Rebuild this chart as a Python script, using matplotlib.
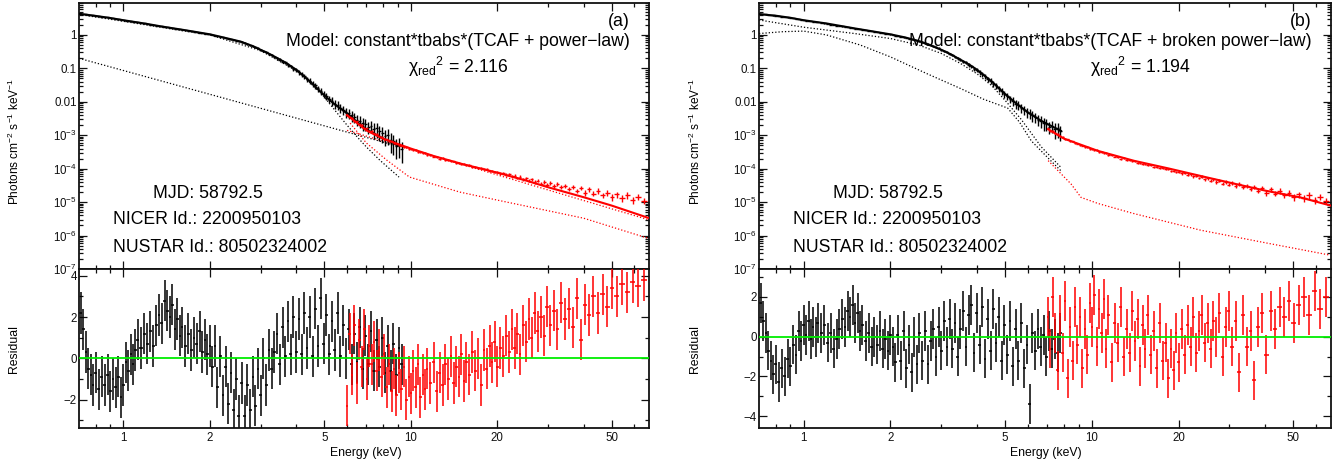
import numpy as np
import matplotlib
matplotlib.use("Agg")
import matplotlib.pyplot as plt
from matplotlib.ticker import FixedLocator, FixedFormatter, LogLocator, NullFormatter, MultipleLocator

plt.rcParams['font.family'] = ['Liberation Sans', 'DejaVu Sans']
plt.rcParams['mathtext.fontset'] = 'custom'
plt.rcParams['mathtext.rm'] = 'Liberation Sans'
plt.rcParams['mathtext.it'] = 'Liberation Sans:italic'
plt.rcParams['mathtext.bf'] = 'Liberation Sans:bold'
plt.rcParams['axes.unicode_minus'] = True

# ---------------- data: NICER (black) energy bins, keV ----------------
E_NICER = [0.71, 0.725, 0.74, 0.755, 0.77, 0.785, 0.80, 0.82, 0.84, 0.86,
           0.88, 0.90, 0.92, 0.94, 0.96, 0.98, 1.00, 1.02, 1.04, 1.06,
           1.08, 1.10, 1.12, 1.15, 1.18, 1.21, 1.24, 1.27, 1.30, 1.33,
           1.36, 1.39, 1.42, 1.45, 1.48, 1.51, 1.54, 1.57, 1.60, 1.64,
           1.68, 1.72, 1.76, 1.80, 1.84, 1.88, 1.92, 1.96, 2.00, 2.04,
           2.08, 2.12, 2.17, 2.22, 2.27, 2.32, 2.37, 2.42, 2.47, 2.52,
           2.58, 2.64, 2.70, 2.76, 2.82, 2.88, 2.94, 3.00, 3.07, 3.14,
           3.21, 3.28, 3.35, 3.42, 3.50, 3.58, 3.66, 3.74, 3.82, 3.90,
           3.99, 4.08, 4.17, 4.26, 4.35, 4.45, 4.55, 4.65, 4.75, 4.86,
           4.97, 5.08, 5.20, 5.32, 5.44, 5.56, 5.69, 5.82, 5.95, 6.08,
           6.22, 6.36, 6.50, 6.65, 6.80, 6.95, 7.11, 7.27, 7.43, 7.60,
           7.77, 7.95, 8.13, 8.32, 8.51, 8.70, 8.90, 9.10, 9.30]

# unfolded NICER flux (photons cm-2 s-1 keV-1)
F_NICER = [4.25, 4.18, 4.10, 4.02, 3.95, 3.85, 3.75, 3.65, 3.55, 3.45,
           3.35, 3.25, 3.15, 3.05, 2.95, 2.85, 2.75, 2.68, 2.62, 2.56,
           2.50, 2.44, 2.38, 2.29, 2.20, 2.11, 2.03, 1.96, 1.90, 1.84,
           1.79, 1.74, 1.69, 1.64, 1.59, 1.55, 1.51, 1.47, 1.43, 1.38,
           1.33, 1.29, 1.25, 1.21, 1.17, 1.14, 1.10, 1.07, 1.04, 1.00,
           0.96, 0.93, 0.89, 0.85, 0.81, 0.78, 0.74, 0.71, 0.68, 0.65,
           0.61, 0.57, 0.53, 0.49, 0.46, 0.43, 0.40, 0.36, 0.33, 0.30,
           0.27, 0.245, 0.22, 0.20, 0.18, 0.16, 0.15, 0.125, 0.115, 0.098,
           0.090, 0.076, 0.066, 0.059, 0.048, 0.043, 0.035, 0.031, 0.025, 0.021,
           0.017, 0.015, 0.012, 0.0105, 0.0088, 0.0079, 0.0066, 0.0058, 0.0050, 0.0046,
           0.0039, 0.0035, 0.0029, 0.0027, 0.0023, 0.0022, 0.0018, 0.0019, 0.0015, 0.0016,
           0.0013, 0.0012, 0.00095, 0.0010, 0.00072, 0.00065, 0.00048, 0.00052, 0.00038]

RELERR_NICER = ([0.012] * 16 + [0.01] * 32 + [0.02] * 3 + [0.025] * 3 + [0.03] * 3 +
                [0.035] * 3 + [0.045] * 4 + [0.055] * 4 + [0.07] * 5 + [0.1] * 4 +
                [0.13] * 4 + [0.17] * 4 + [0.21] * 4 + [0.25] * 4 + [0.3] * 5 +
                [0.35] * 5 + [0.4] * 5 + [0.5] * 6 + [0.6] * 5)

# ---------------- data: NuSTAR (red) energy bins, keV ----------------
E_NUSTAR = [6.00, 6.12, 6.24, 6.36, 6.49, 6.62, 6.75, 6.89, 7.03, 7.17,
            7.31, 7.46, 7.61, 7.76, 7.92, 8.08, 8.24, 8.40, 8.57, 8.74,
            8.91, 9.09, 9.27, 9.46, 9.65, 9.84, 10.0, 10.2, 10.4, 10.6,
            10.8, 11.0, 11.2, 11.4, 11.7, 12.0, 12.3, 12.6, 12.9, 13.2,
            13.5, 13.8, 14.1, 14.4, 14.7, 15.0, 15.3, 15.6, 16.0, 16.4,
            16.8, 17.2, 17.6, 18.0, 18.4, 18.8, 19.2, 19.6, 20.0, 20.5,
            21.0, 21.5, 22.0, 22.5, 23.0, 23.5, 24.0, 24.6, 25.2, 25.8,
            26.4, 27.0, 27.7, 28.4, 29.1, 29.8, 30.6, 31.5, 32.4, 33.4,
            34.4, 35.5, 36.6, 37.8, 39.0, 40.3, 41.7, 43.2, 44.8, 46.5,
            48.3, 50.2, 52.2, 54.4, 56.7, 59.2, 61.9, 64.8]

F_NUSTAR = [3.9e-3, 3.4e-3, 3.3e-3, 2.7e-3, 2.6e-3, 2.1e-3, 2.0e-3, 1.68e-3, 1.6e-3, 1.36e-3,
            1.33e-3, 1.13e-3, 1.08e-3, 9.2e-4, 8.9e-4, 7.7e-4, 7.6e-4, 6.7e-4, 6.5e-4, 5.7e-4,
            5.6e-4, 5.0e-4, 4.9e-4, 4.4e-4, 4.4e-4, 3.9e-4, 3.9e-4, 3.5e-4, 3.55e-4, 3.15e-4,
            3.2e-4, 2.85e-4, 2.9e-4, 2.6e-4, 2.55e-4, 2.3e-4, 2.25e-4, 2.0e-4, 2.05e-4, 1.8e-4,
            1.83e-4, 1.65e-4, 1.64e-4, 1.48e-4, 1.49e-4, 1.34e-4, 1.36e-4, 1.25e-4, 1.27e-4, 1.13e-4,
            1.15e-4, 1.04e-4, 1.05e-4, 9.5e-5, 9.6e-5, 8.7e-5, 8.8e-5, 8.1e-5, 8.1e-5, 7.3e-5,
            7.5e-5, 6.6e-5, 6.8e-5, 5.9e-5, 6.2e-5, 5.3e-5, 5.8e-5, 4.8e-5, 5.2e-5, 4.4e-5,
            4.8e-5, 4.0e-5, 4.4e-5, 3.6e-5, 4.0e-5, 3.3e-5, 3.8e-5, 3.0e-5, 3.5e-5, 2.8e-5,
            3.1e-5, 2.5e-5, 2.9e-5, 2.2e-5, 2.6e-5, 1.9e-5, 2.4e-5, 1.8e-5, 2.2e-5, 1.6e-5,
            1.9e-5, 1.4e-5, 1.7e-5, 1.3e-5, 1.6e-5, 1.15e-5, 1.45e-5, 1.1e-5]

RELERR_NUSTAR = ([0.05] * 27 + [0.06] * 19 + [0.07] * 13 + [0.09] * 10 +
                 [0.11] * 7 + [0.14] * 9 + [0.18] * 6 + [0.22] * 7)

# ---------------- residuals (a): TCAF + power-law ----------------
RES_A_NICER = [2.2, 1.4, 0.3, -0.5, -0.8, -1.3, -0.7, -1.5, -0.9, -1.3,
               -0.8, -1.6, -1.0, -1.4, -0.9, -1.9, -1.3, -0.2, -0.6, 0.2,
               -0.3, 0.4, 0.9, 0.5, 1.2, 0.7, 1.3, 0.6, 1.6, 2.1,
               1.7, 2.8, 2.3, 2.0, 2.6, 1.4, 1.9, 1.1, 1.5, 0.6,
               1.2, 0.4, 1.0, 0.7, 1.3, 0.3, 0.9, 0.2, 0.6, -0.4,
               0.6, -1.4, 0.1, -1.8, -0.4, -2.2, -0.7, -2.5, -1.0, -2.8,
               -1.2, -2.8, -1.3, -2.5, -0.9, -2.3, -0.5, -1.8, 0.0, -1.3,
               0.4, -0.5, 0.3, 1.2, -0.3, 1.5, 0.1, 1.8, 0.2, 2.0,
               0.3, 1.9, 0.2, 2.2, 0.5, 2.0, 0.1, 2.4, 0.6, 2.9,
               0.7, 2.1, 0.2, 1.8, 0.4, 2.2, 0.1, 1.6, 0.0, 1.4,
               -0.3, 1.2, -0.2, 1.5, -0.5, 1.1, -0.3, 1.3, -0.6, 0.9,
               -0.4, 1.0, -0.7, 0.6, -0.6, 0.7, -0.8, 0.5, -0.3]

RES_A_NUSTAR = [-2.3, 1.2, -0.8, 1.6, -1.2, 0.9, -0.4, 1.4, -1.0, 0.6,
                -0.3, 0.8, -0.6, 0.4, -0.9, 0.2, -1.4, -0.3, -1.6, -0.5,
                -1.8, -0.7, -1.5, -0.4, -2.0, -0.9, -1.7, -0.6, -1.4, -0.3,
                -1.9, -0.8, -1.5, -0.5, -1.2, -0.2, -1.6, -0.7, -1.3, -0.3,
                -1.0, 0.1, -1.2, -0.4, -0.9, 0.2, -1.1, -0.2, -0.8, 0.3,
                -0.6, 0.0, -1.3, 0.4, -0.5, 0.6, -0.2, 0.8, -0.4, 0.5,
                0.1, 1.1, 0.3, 1.4, 0.5, 1.2, 0.2, 1.6, 0.8, 1.9,
                1.0, 2.2, 1.3, 2.0, 1.1, 2.5, 1.6, 2.3, 1.4, 2.7,
                1.9, 2.4, 1.5, 2.9, 0.9, 2.6, 2.1, 3.0, 2.2, 3.1,
                2.5, 3.4, 3.0, 3.6, 3.2, 3.7, 3.5, 3.8]

# ---------------- residuals (b): TCAF + broken power-law ----------------
RES_B_NICER = [1.7, 0.8, 0.2, -0.7, -1.2, -1.9, -1.4, -2.3, -1.6, -2.0,
               -1.1, -1.5, -0.4, -0.9, 0.3, -0.2, 0.6, 0.1, 0.8, -0.1,
               0.5, 0.0, 0.7, 0.2, 0.6, -0.3, 0.2, -0.6, -0.1, 0.4,
               0.9, 0.5, 1.3, 1.0, 1.6, 0.7, 1.2, 0.3, 0.6, -0.2,
               0.2, -0.5, 0.0, -0.4, 0.3, -0.6, -0.1, -0.7, 0.1, -0.5,
               -1.3, 0.1, -1.2, 0.3, -1.6, -0.4, -1.8, 0.0, -1.4, 0.2,
               -1.2, 0.3, -1.4, -0.2, 0.4, -1.0, 0.5, -0.7, 0.8, -0.5,
               0.9, -0.6, 0.7, -1.0, 0.4, 1.3, -0.5, 1.1, 1.6, -0.8,
               1.2, -0.4, 1.5, -1.1, 0.9, -0.7, 1.4, -0.3, 1.0, -1.2,
               0.6, -0.9, 0.8, -1.5, 0.4, -1.2, 0.7, -1.6, -0.4, -3.4,
               0.2, -0.7, 0.4, -0.5, 0.1, -1.0, 0.3, -0.6, -0.1, -0.8,
               0.2]

RES_B_NUSTAR = [1.0, -0.6,
                2.0, 0.2, -1.7, 1.1, -0.8, 1.8, -2.1, 0.5, -1.2, 1.5,
                -0.4, 1.0, -1.6, 0.4, -0.9, 1.7, 0.5, 2.1, -0.5, 1.4,
                0.2, 1.9, -0.6, 1.1, -1.3, 0.7, -0.3, 1.5, -1.0, 0.4,
                -0.8, 1.3, -0.2, 0.9, -1.5, 0.6, -0.6, 1.1, -0.9, 0.3,
                -1.6, 0.7, -1.2, -0.3, -2.1, -0.6, -1.7, 0.2, -1.3, 0.4,
                -0.9, 0.6, -0.5, 1.0, -0.8, 0.3, 1.1, -0.3, 0.7, -0.6,
                0.8, 0.0, 1.2, -1.0, 0.5, 1.3, -0.5, 0.8, -1.8, 1.1,
                -0.5, 0.3, -2.2, 0.5, 1.2, -0.9, 1.3, 0.4, 1.5, 1.0,
                1.8, 0.7, 1.6, 2.0, 1.1, 2.3, 1.4, 2.0]

# ---------------- model curves (a) ----------------
MA_NICER_E = [0.7, 0.8, 0.9, 1.0, 1.2, 1.35, 1.6, 1.8, 2.0, 2.2, 2.4, 2.56, 2.8, 3.0, 3.25,
              3.52, 3.75, 4.0, 4.25, 4.5, 4.85, 5.2, 5.5, 6.0, 6.5, 7.0, 8.0, 9.1]
MA_NICER_F = [4.3, 3.7, 3.2, 2.75, 2.15, 1.8, 1.43, 1.21, 1.04, 0.86, 0.72, 0.63, 0.47, 0.36, 0.26,
              0.18, 0.13, 0.09, 0.058, 0.038, 0.020, 0.0115, 0.0078, 0.0045, 2.5e-3, 1.5e-3, 8.0e-4, 5.0e-4]
MA_NICER_PL_E = [0.7, 3.0, 9.3]
MA_NICER_PL_F = [0.2, 6.4e-3, 4.4e-4]
MA_NICER_TCAF_E = [0.7, 1.0, 1.5, 2.0, 3.0, 4.0, 4.5, 5.0, 5.5, 6.0, 6.5, 7.0, 7.8, 9.1]
MA_NICER_TCAF_F = [4.1, 2.55, 1.47, 1.0, 0.34, 0.085, 0.035, 0.014, 5.0e-3, 2.0e-3, 9.0e-4, 4.5e-4, 1.8e-4, 5.6e-5]

MA_NUSTAR_E = [6.0, 7.0, 8.0, 10.0, 12.0, 15.0, 20.0, 25.0, 30.0, 40.0, 50.0, 67.0]
MA_NUSTAR_F = [4.0e-3, 1.4e-3, 7.9e-4, 4.0e-4, 2.4e-4, 1.4e-4, 7.6e-5, 4.5e-5, 2.8e-5, 1.4e-5, 7.9e-6, 3.4e-6]
MA_NUSTAR_PL_E = [6.0, 67.0]
MA_NUSTAR_PL_F = [1.4e-3, 3.0e-6]
MA_NUSTAR_TCAF_E = [6.15, 7.0, 8.25, 9.9, 14.8, 20.0, 40.0, 67.0]
MA_NUSTAR_TCAF_F = [2.3e-3, 5.9e-4, 1.8e-4, 5.6e-5, 2.0e-5, 1.15e-5, 3.3e-6, 8.3e-7]

# ---------------- model curves (b) ----------------
MB_NICER_E = [0.7, 0.8, 0.9, 1.0, 1.2, 1.5, 1.75, 2.0, 2.25, 2.5, 2.75, 3.0, 3.25, 3.5, 3.75, 4.0,
              4.5, 5.0, 5.5, 6.0, 6.67, 7.8]
MB_NICER_F = [4.2, 3.75, 3.25, 2.75, 2.2, 1.57, 1.26, 1.04, 0.84, 0.66, 0.49, 0.36, 0.26, 0.18, 0.13, 0.09,
              0.04, 0.017, 8.5e-3, 4.8e-3, 2.7e-3, 1.35e-3]
MB_NICER_TCAF_E = [0.7, 1.0, 1.5, 2.0, 2.5, 3.0, 3.5, 4.0, 4.5, 5.0, 5.68, 6.67, 7.8]
MB_NICER_TCAF_F = [2.8, 1.7, 1.1, 0.78, 0.5, 0.28, 0.14, 0.068, 0.03, 0.011, 3.0e-3, 4.5e-4, 1.1e-4]
MB_NICER_BPL_E = [0.7, 0.85, 1.0, 1.2, 1.57, 2.0, 2.67, 3.5, 4.2, 5.1, 5.6, 6.16, 7.0, 7.8]
MB_NICER_BPL_F = [1.1, 1.25, 1.3, 1.0, 0.5, 0.22, 0.07, 0.025, 0.012, 6.5e-3, 2.5e-3, 6.8e-4, 2.2e-4, 8.7e-5]

MB_NUSTAR_E = [7.05, 8.0, 10.5, 14.0, 18.4, 25.0, 31.0, 40.0, 52.9, 67.3]
MB_NUSTAR_F = [1.51e-3, 7.9e-4, 3.4e-4, 1.72e-4, 1.02e-4, 5.5e-5, 3.6e-5, 2.2e-5, 1.38e-5, 7.9e-6]
MB_NUSTAR_TCAF_E = [7.05, 8.46, 9.17, 10.5, 13.9, 23.8, 40.7, 67.0]
MB_NUSTAR_TCAF_F = [1.74e-4, 3.5e-5, 1.38e-5, 9.1e-6, 4.6e-6, 1.45e-6, 5.9e-7, 2.6e-7]

# ---------------- labels ----------------
XTICKS = [1, 2, 5, 10, 20, 50]
XTICK_LABELS = ['1', '2', '5', '10', '20', '50']
XMINOR = [0.8, 0.9, 3, 4, 6, 7, 8, 9, 30, 40, 60]
YTICKS_TOP = [1e-7, 1e-6, 1e-5, 1e-4, 1e-3, 1e-2, 1e-1, 1]
YTICK_LABELS_TOP = [r'$10^{-7}$', r'$10^{-6}$', r'$10^{-5}$', r'$10^{-4}$', r'$10^{-3}$', '0.01', '0.1', '1']
PANELS = [
    dict(tag='(a)', model='Model: constant*tbabs*(TCAF + power\u2212law)', chi='2.116',
         res_ticks=[-2, 0, 2, 4], res_lim=(-3.38, 4.33)),
    dict(tag='(b)', model='Model: constant*tbabs*(TCAF + broken power\u2212law)', chi='1.194',
         res_ticks=[-4, -2, 0, 2], res_lim=(-4.6, 3.41)),
]
INFO = ['MJD: 58792.5', 'NICER Id.: 2200950103', 'NUSTAR Id.: 80502324002']

# ---------------- figure ----------------
W, H = 1342, 465
fig = plt.figure(figsize=(W / 100, H / 100), dpi=100)


def box(l, t, r, b):
    return [l / W, 1 - b / H, (r - l) / W, (b - t) / H]


def fx(x):
    return x / W


def fy(y):
    return 1 - y / H


def halfbin(e):
    return np.gradient(np.asarray(e, float)) / 2.0


RED = '#ff0000'
DOT = (0, (1, 1.6))


def style(ax):
    ax.set_xscale('log')
    ax.set_xlim(0.7, 67.5)
    ax.xaxis.set_major_locator(FixedLocator(XTICKS))
    ax.xaxis.set_minor_locator(FixedLocator(XMINOR))
    ax.xaxis.set_minor_formatter(NullFormatter())
    ax.tick_params(which='both', direction='in', top=True, right=True, width=0.9,
                   labelsize=8.3, colors='#111111')
    ax.tick_params(which='major', length=6)
    ax.tick_params(which='minor', length=3)
    ax.tick_params(axis='y', pad=1.5)
    ax.tick_params(axis='x', pad=2.8)
    for s in ax.spines.values():
        s.set_linewidth(1.3)
        s.set_color('#111111')


geo = [(79, 649, 14, 366), (759, 1331, 695, 1046)]

E_N = np.array(E_NICER)
F_N = np.array(F_NICER)
R_N = np.array(RELERR_NICER)
E_S = np.array(E_NUSTAR)
F_S = np.array(F_NUSTAR)
R_S = np.array(RELERR_NUSTAR)
XE_N = halfbin(E_N)
XE_S = halfbin(E_S)

for i, p in enumerate(PANELS):
    left, right, ylx, xlx = geo[i]
    axt = fig.add_axes(box(left, 3, right, 269))
    axr = fig.add_axes(box(left, 269, right, 428))
    style(axt)
    style(axr)

    if i == 0:
        nN, s0 = len(E_N), 0
        res_n, res_s = RES_A_NICER, RES_A_NUSTAR
        comps_n = [(MA_NICER_PL_E, MA_NICER_PL_F), (MA_NICER_TCAF_E, MA_NICER_TCAF_F)]
        comps_s = [(MA_NUSTAR_PL_E, MA_NUSTAR_PL_F), (MA_NUSTAR_TCAF_E, MA_NUSTAR_TCAF_F)]
        tot_n = (MA_NICER_E, MA_NICER_F)
        tot_s = (MA_NUSTAR_E, MA_NUSTAR_F)
    else:
        nN = len(RES_B_NICER)
        s0 = len(E_S) - len(RES_B_NUSTAR)
        res_n, res_s = RES_B_NICER, RES_B_NUSTAR
        comps_n = [(MB_NICER_TCAF_E, MB_NICER_TCAF_F), (MB_NICER_BPL_E, MB_NICER_BPL_F)]
        comps_s = [(MB_NUSTAR_TCAF_E, MB_NUSTAR_TCAF_F)]
        tot_n = (MB_NICER_E, MB_NICER_F)
        tot_s = (MB_NUSTAR_E, MB_NUSTAR_F)

    # --- top: unfolded spectrum ---
    for e, f in comps_n:
        axt.plot(e, f, color='k', lw=0.9, ls=DOT, zorder=2)
    for e, f in comps_s:
        axt.plot(e, f, color=RED, lw=0.9, ls=DOT, zorder=2)
    axt.errorbar(E_N[:nN], F_N[:nN], yerr=F_N[:nN] * R_N[:nN], xerr=XE_N[:nN],
                 fmt='none', ecolor='k', elinewidth=1.0, capsize=0, zorder=3)
    axt.plot(*tot_n, color='k', lw=1.5, zorder=4)
    axt.plot(*tot_s, color=RED, lw=1.5, zorder=4)
    axt.errorbar(E_S[s0:], F_S[s0:], yerr=F_S[s0:] * R_S[s0:], xerr=XE_S[s0:],
                 fmt='none', ecolor=RED, elinewidth=1.0, capsize=0, zorder=5)
    axt.set_yscale('log')
    axt.set_ylim(1e-7, 9)
    axt.yaxis.set_major_locator(FixedLocator(YTICKS_TOP))
    axt.yaxis.set_major_formatter(FixedFormatter(YTICK_LABELS_TOP))
    axt.yaxis.set_minor_locator(LogLocator(base=10, subs=np.arange(2, 10), numticks=100))
    axt.yaxis.set_minor_formatter(NullFormatter())
    axt.tick_params(labelbottom=False)
    axt.set_xlim(0.7, 67.5)

    # --- bottom: residuals ---
    axr.errorbar(E_N[:nN], res_n, yerr=1.0, xerr=XE_N[:nN], fmt='none', ecolor='k',
                 elinewidth=1.3, capsize=0, alpha=0.85, zorder=2)
    axr.errorbar(E_S[s0:], res_s, yerr=1.0, xerr=XE_S[s0:], fmt='none', ecolor=RED,
                 elinewidth=1.3, capsize=0, alpha=0.85, zorder=3)
    axr.axhline(0, color='#00ee00', lw=1.3, zorder=6)
    axr.set_ylim(*p['res_lim'])
    axr.yaxis.set_major_locator(FixedLocator(p['res_ticks']))
    axr.yaxis.set_major_formatter(FixedFormatter(['\u2212' + str(-t) if t < 0 else str(t) for t in p['res_ticks']]))
    axr.yaxis.set_minor_locator(MultipleLocator(1))
    axr.xaxis.set_major_formatter(FixedFormatter(XTICK_LABELS))
    axr.set_xlim(0.7, 67.5)

    # --- labels ---
    fig.text(fx(ylx), fy(142), r'Photons cm$^{-2}$ s$^{-1}$ keV$^{-1}$', rotation=90,
             ha='center', va='center', fontsize=8.6)
    fig.text(fx(ylx), fy(348.5), 'Residual', rotation=90, ha='center', va='center', fontsize=8.8)
    fig.text(fx(xlx), fy(456), 'Energy (keV)', ha='center', va='baseline', fontsize=8.8)

    fig.text(fx(right - 19), fy(26), p['tag'], ha='right', va='baseline', fontsize=12.7)
    fig.text(fx(right - 19), fy(46), p['model'], ha='right', va='baseline', fontsize=12.7)
    chi_cx = 458 if i == 0 else 1140
    fig.text(fx(chi_cx), fy(72.7), '\u03c7$_{\\rm red}{}^{2}$ = ' + p['chi'],
             ha='center', va='baseline', fontsize=12.7)
    mjd_x = 153 if i == 0 else 833
    id_x = 113 if i == 0 else 793
    fig.text(fx(mjd_x), fy(197.5), INFO[0], ha='left', va='baseline', fontsize=12.7)
    fig.text(fx(id_x), fy(224.2), INFO[1], ha='left', va='baseline', fontsize=12.7)
    fig.text(fx(id_x), fy(252), INFO[2], ha='left', va='baseline', fontsize=12.7)

fig.savefig('out.png', dpi=100)
